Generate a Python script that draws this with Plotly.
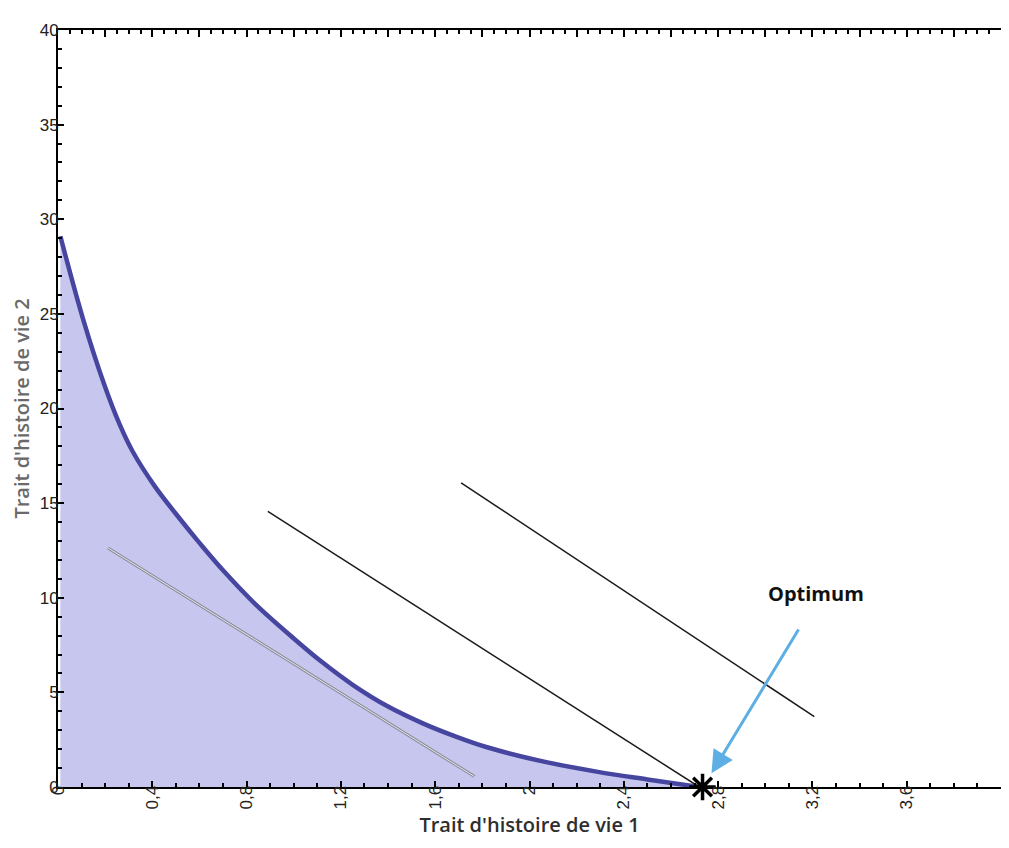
import plotly.graph_objects as go

# Frontier curve (trade-off between the two traits)
curve_x = [0.01, 0.107, 0.198, 0.26, 0.318, 0.41, 0.515, 0.60, 0.70, 0.838, 1.0, 1.12, 1.25,
           1.40, 1.55, 1.68, 1.82, 2.076, 2.29, 2.50, 2.72]
curve_y = [29.1, 24.7, 21.2, 19.2, 17.7, 15.9, 14.2, 12.9, 11.45, 9.65, 7.85, 6.6, 5.4,
           4.25, 3.35, 2.7, 2.1, 1.3, 0.8, 0.4, 0.0]

# Iso-fitness lines
grey_x = [0.212, 1.767]
grey_y = [12.63, 0.55]
line1_x = [0.890, 2.72]
line1_y = [14.57, 0.0]
line2_x = [1.710, 3.208]
line2_y = [16.07, 3.72]

# Optimum
opt_x = [2.734]
opt_y = [0.0]
arrow_tail = (3.145, 8.40)
arrow_head = (2.772, 0.72)
label_pos = (3.215, 10.25)

x_ticks = [0, 0.4, 0.8, 1.2, 1.6, 2, 2.4, 2.8, 3.2, 3.6, 4]
x_labels = ["0", "0,4", "0,8", "1,2", "1,6", "2", "2,4", "2,8", "3,2", "3,6", "4"]
y_ticks = [0, 5, 10, 15, 20, 25, 30, 35, 40]
y_labels = ["0", "5", "10", "15", "20", "25", "30", "35", "40"]

fig = go.Figure()

fig.add_trace(go.Scatter(
    x=curve_x, y=curve_y, mode="lines", fill="tozeroy", line_shape="spline",
    fillcolor="#C6C6EE", line=dict(color="#4646A0", width=4.5, smoothing=1.0),
    hoverinfo="skip", showlegend=False))

fig.add_trace(go.Scatter(x=grey_x, y=grey_y, mode="lines",
                         line=dict(color="#8C8C98", width=3), showlegend=False))
fig.add_trace(go.Scatter(x=grey_x, y=grey_y, mode="lines",
                         line=dict(color="#E6E6F2", width=1), showlegend=False))
fig.add_trace(go.Scatter(x=line1_x, y=line1_y, mode="lines",
                         line=dict(color="#1a1a1a", width=1.5), showlegend=False))
fig.add_trace(go.Scatter(x=line2_x, y=line2_y, mode="lines",
                         line=dict(color="#1a1a1a", width=1.5), showlegend=False))

# invisible trace for the top axis
fig.add_trace(go.Scatter(x=[0, 4], y=[0, 0], xaxis="x2", mode="lines",
                         line=dict(width=0), opacity=0, showlegend=False, hoverinfo="skip"))

fig.add_annotation(x=arrow_head[0], y=arrow_head[1], ax=arrow_tail[0], ay=arrow_tail[1],
                   xref="x", yref="y", axref="x", ayref="y", text="", showarrow=True,
                   arrowhead=2, arrowsize=1.5, arrowwidth=3, arrowcolor="#5DAEE4")

fig.add_trace(go.Scatter(x=opt_x, y=opt_y, mode="markers", cliponaxis=False,
                         marker=dict(symbol="asterisk-open", size=22, color="black",
                                     line=dict(color="black", width=3.5)),
                         showlegend=False))

fig.add_annotation(x=label_pos[0], y=label_pos[1], xref="x", yref="y", text="<b>Optimum</b>",
                   showarrow=False, font=dict(family="Open Sans", size=20, color="#111111"))

XR = [0, 4.0]
fig.update_layout(
    width=993, height=832,
    margin=dict(l=50, r=0, t=22, b=53),
    paper_bgcolor="white", plot_bgcolor="white",
    showlegend=False,
    xaxis=dict(range=XR, tickvals=x_ticks, ticktext=x_labels, tickangle=-90,
               ticks="inside", ticklen=6, tickwidth=1.5, tickcolor="black",
               minor=dict(dtick=0.1, tick0=0, ticks="inside", ticklen=4, tickcolor="black", tickwidth=1.5),
               showline=True, linecolor="black", linewidth=2, showgrid=False, zeroline=False,
               ticklabelstandoff=-10,
               tickfont=dict(family="Liberation Sans", size=17, color="#222222"),
               title=dict(text="Trait d'histoire de vie 1", standoff=10,
                          font=dict(family="Open Sans", size=20, color="#2e2e2e", weight=600)),
               automargin=False),
    xaxis2=dict(range=XR, overlaying="x", side="top", showticklabels=False,
                tickmode="linear", tick0=0, dtick=0.2, ticks="inside", ticklen=7, tickwidth=1.5,
                tickcolor="black",
                minor=dict(dtick=0.05, ticks="inside", ticklen=4, tickcolor="black", tickwidth=1.5),
                showline=True, linecolor="black", linewidth=2, showgrid=False, zeroline=False),
    yaxis=dict(range=[0, 40], tickvals=y_ticks, ticktext=y_labels,
               ticks="inside", ticklen=6, tickwidth=1.5, tickcolor="black",
               minor=dict(dtick=1, tick0=0, ticks="inside", ticklen=4, tickcolor="black", tickwidth=1.5),
               showline=True, linecolor="black", linewidth=2, showgrid=False, zeroline=False,
               ticklabelstandoff=-6,
               tickfont=dict(family="Liberation Sans", size=17, color="#222222"),
               title=dict(text="Trait d'histoire de vie 2", standoff=6,
                          font=dict(family="Open Sans", size=20, color="#6a6a6a", weight=600)),
               automargin=False),
)

fig.write_html("out.html")
